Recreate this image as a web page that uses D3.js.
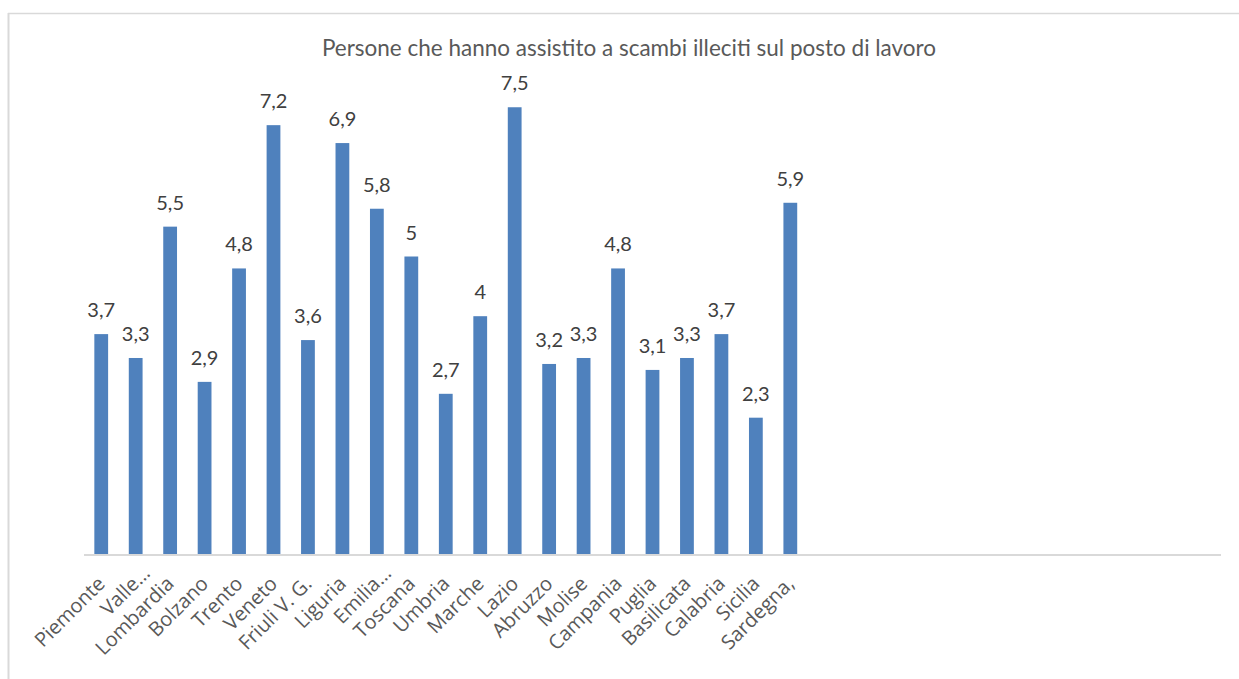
<!DOCTYPE html>
<html>
<head>
<meta charset="utf-8">
<script src="https://cdn.jsdelivr.net/npm/d3@7"></script>
<style>
  body { margin: 0; background: #fff; }
  text { font-family: Lato, "Open Sans", sans-serif; }
  text.cat { font-family: "Open Sans", Lato, sans-serif; }
</style>
</head>
<body>
<div id="chart"></div>
<script>
// data
var regions = ['Piemonte', 'Valle…', 'Lombardia', 'Bolzano', 'Trento', 'Veneto', 'Friuli V. G.',
  'Liguria', 'Emilia…', 'Toscana', 'Umbria', 'Marche', 'Lazio', 'Abruzzo', 'Molise',
  'Campania', 'Puglia', 'Basilicata', 'Calabria', 'Sicilia', 'Sardegna,'];
var values = [3.7, 3.3, 5.5, 2.9, 4.8, 7.2, 3.6, 6.9, 5.8, 5, 2.7, 4, 7.5, 3.2, 3.3,
  4.8, 3.1, 3.3, 3.7, 2.3, 5.9];
var emptySlots = 12; // blank rows after Sardegna in the original sheet
var title = 'Persone che hanno assistito a scambi illeciti sul posto di lavoro';
var yMax = 8;

var width = 1239;
var height = 679;

var svg = d3.select('#chart')
  .append('svg')
  .attr('width', width)
  .attr('height', height);

// chart frame (only top and left edges show)
svg.append('line')
  .attr('x1', 8).attr('x2', width)
  .attr('y1', 13.5).attr('y2', 13.5)
  .attr('stroke', '#d9d9d9').attr('stroke-width', 1.5);
svg.append('line')
  .attr('x1', 8.5).attr('x2', 8.5)
  .attr('y1', 13).attr('y2', height)
  .attr('stroke', '#d9d9d9').attr('stroke-width', 2);

var slots = d3.range(regions.length + emptySlots);

var x = d3.scaleBand()
  .domain(slots)
  .range([84, 1221])
  .paddingInner(0.6)
  .paddingOuter(0.3);

var y = d3.scaleLinear()
  .domain([0, yMax])
  .range([555, 77.4]);

var it = d3.formatLocale({ decimal: ',', thousands: '.', grouping: [3], currency: ['€', ''] });
var fmt = it.format('.1~f');

svg.append('text')
  .attr('x', 629)
  .attr('y', 56)
  .attr('text-anchor', 'middle')
  .attr('font-size', 22.5)
  .attr('fill', '#595959')
  .text(title);

// bars
svg.selectAll('rect.bar')
  .data(values)
  .enter().append('rect')
  .attr('class', 'bar')
  .attr('x', function(d, i) { return x(i); })
  .attr('width', x.bandwidth())
  .attr('y', function(d) { return y(d); })
  .attr('height', function(d) { return y(0) - y(d); })
  .attr('fill', '#4f81bd');

// data labels
svg.selectAll('text.val')
  .data(values)
  .enter().append('text')
  .attr('class', 'val')
  .attr('x', function(d, i) { return x(i) + x.bandwidth() / 2; })
  .attr('y', function(d) { return y(d) - 17; })
  .attr('text-anchor', 'middle')
  .attr('font-size', 20)
  .attr('fill', '#404040')
  .text(function(d) { return fmt(d); });

// category axis line
svg.append('line')
  .attr('x1', 84).attr('x2', 1221)
  .attr('y1', y(0)).attr('y2', y(0))
  .attr('stroke', '#d9d9d9').attr('stroke-width', 2);

// rotated category labels
svg.selectAll('text.cat')
  .data(regions)
  .enter().append('text')
  .attr('class', 'cat')
  .attr('transform', function(d, i) {
    var cx = x(i) + x.bandwidth() / 2 + 5;
    return 'translate(' + cx + ',585) rotate(-45)';
  })
  .attr('dx', function(d) { return d.slice(-1) === '…' ? 15 : 0; })
  .attr('text-anchor', 'end')
  .attr('font-size', 20)
  .attr('fill', '#595959')
  .text(function(d) { return d; });
</script>
</body>
</html>
